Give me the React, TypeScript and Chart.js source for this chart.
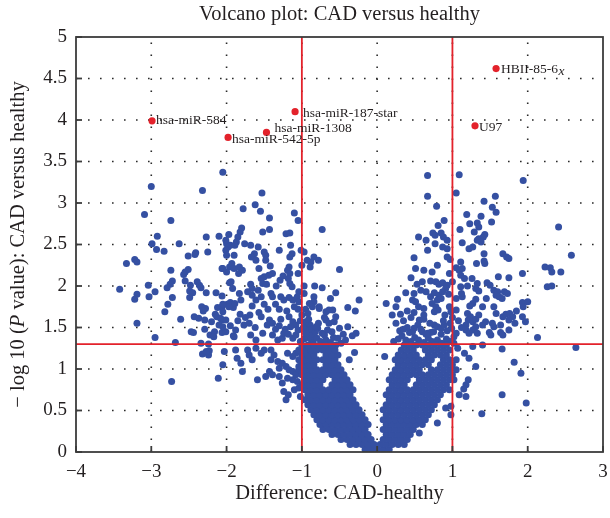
import React, { useEffect, useRef } from "react";
import { Chart, registerables } from "chart.js";
Chart.register(...registerables);

const FONT = '"Liberation Serif", "Times New Roman", "DejaVu Serif", serif';

const xTickValues = [-4, -3, -2, -1, 0, 1, 2, 3];
const yTickValues = [0, 0.5, 1, 1.5, 2, 2.5, 3, 3.5, 4, 4.5, 5];
const foldCutoffs = [-1, 1];
const pCutoff = 1.3;

const chartTitle = "Volcano plot: CAD versus healthy";
const xAxisTitle = "Difference: CAD-healthy";
const yAxisTitleParts = ["\u2212 log 10 (", "P", " value): CAD versus healthy"];

const highlightNames = ["HBII-85-6", "U97", "hsa-miR-584", "hsa-miR-187-star", "hsa-miR-1308", "hsa-miR-542-5p"];
const highlightItalicSuffix = ["x", "", "", "", "", ""];
const highlightX = [1.58, 1.3, -2.99, -1.09, -1.47, -1.98];
const highlightY = [4.62, 3.93, 3.99, 4.1, 3.85, 3.79];

const leftCloud: number[][] = [
  [-2.05,3.37],[-3.0,3.2],[-2.32,3.15],[-3.09,2.86],[-2.74,2.79],[-2.92,2.6],[-2.99,2.51],[-2.63,2.51],[-2.27,2.59],[-2.1,2.6],
  [-1.97,2.62],[-2.93,2.44],[-2.83,2.42],[-2.41,2.4],[-2.42,2.38],[-2.25,2.41],[-2.51,2.36],[-2.0,2.51],[-1.98,2.47],[-1.95,2.49],
  [-3.33,2.27],[-3.22,2.32],[-3.19,2.29],[-2.74,2.19],[-2.51,2.2],[-2.55,2.17],[-2.57,2.14],[-2.06,2.21],[-1.96,2.23],[-1.93,2.27],
  [-2.0,2.17],[-2.72,2.06],[-2.75,2.02],[-2.79,1.98],[-2.55,2.06],[-2.48,2.01],[-2.39,2.05],[-2.36,2.01],[-2.34,1.98],[-2.27,1.92],
  [-1.96,2.04],[-3.42,1.96],[-3.04,2.01],[-3.03,1.87],[-2.95,1.93],[-3.19,1.9],[-3.22,1.84],[-2.49,1.94],[-2.45,1.92],[-2.49,1.86],
  [-2.72,1.86],[-2.78,1.78],[-2.82,1.69],[-2.14,1.92],[-2.06,1.88],[-2.33,1.75],[-2.28,1.73],[-2.31,1.7],[-2.12,1.74],[-2.06,1.75],
  [-1.99,1.78],[-1.95,1.8],[-1.91,1.74],[-2.43,1.63],[-2.37,1.61],[-2.29,1.59],[-2.15,1.66],[-2.13,1.63],[-2.2,1.57],[-2.61,1.6],
  [-3.19,1.55],[-2.06,1.59],[-2.1,1.53],[-2.47,1.45],[-2.44,1.44],[-2.29,1.48],[-2.22,1.41],[-2.16,1.45],[-2.17,1.39],[-2.06,1.44],
  [-1.91,1.4],[-2.95,1.38],[-2.68,1.32],[-2.34,1.31],[-2.24,1.3],
  [-1.53,3.12],[-1.62,2.98],[-1.78,2.93],[-1.55,2.9],[-1.43,2.82],[-1.1,2.88],[-1.05,2.79],[-0.73,2.68],[-1.8,2.7],[-1.82,2.65],
  [-1.85,2.59],[-1.87,2.53],[-1.52,2.65],[-1.43,2.68],[-1.21,2.63],[-1.16,2.64],[-2.01,2.55],[-1.89,2.49],[-1.9,2.37],[-1.76,2.51],
  [-1.68,2.49],[-1.58,2.47],[-1.5,2.41],[-1.3,2.43],[-1.15,2.49],[-1.13,2.39],[-1.16,2.35],[-1.01,2.43],[-0.97,2.41],[-1.63,2.39],
  [-1.67,2.35],[-1.48,2.37],[-1.48,2.31],[-2.01,2.43],[-2.0,2.37],[-0.93,2.31],[-0.88,2.29],[-0.84,2.35],[-0.78,2.31],[-0.89,2.23],
  [-0.5,2.2],[-1.61,2.31],[-2.05,2.21],[-1.9,2.21],[-1.83,2.23],[-1.79,2.19],[-1.84,2.15],[-1.57,2.21],[-1.42,2.24],[-1.39,2.15],
  [-1.17,2.23],[-1.19,2.19],[-1.16,2.15],[-1.5,2.11],[-1.44,2.13],[-1.29,2.07],[-1.18,2.09],[-1.16,2.03],[-1.13,1.99],[-1.54,2.09],
  [-1.52,2.03],[-1.94,2.05],[-1.92,1.97],[-1.68,2.02],[-1.66,1.97],[-1.72,1.93],[-1.34,2.0],[-0.97,2.0],[-0.83,2.0],[-0.73,1.98],
  [-1.83,1.91],[-1.81,1.83],[-1.89,1.79],[-1.97,1.75],[-2.05,1.78],[-1.66,1.89],[-1.61,1.83],[-1.66,1.76],[-1.54,1.87],[-1.41,1.91],
  [-1.39,1.87],[-1.28,1.87],[-1.24,1.83],[-1.17,1.86],[-1.12,1.83],[-1.04,1.93],[-1.06,1.87],[-1.04,1.81],[-0.97,1.91],[-0.84,1.87],
  [-0.84,1.81],[-0.86,1.75],[-0.77,1.73],[-0.68,1.69],[-0.59,1.71],[-0.39,1.74],[-0.29,1.7],[-2.05,1.69],[-2.01,1.59],[-2.08,1.61],
  [-1.82,1.66],[-1.69,1.65],[-1.57,1.68],[-1.54,1.63],[-1.43,1.59],[-1.46,1.53],[-1.39,1.55],[-1.28,1.6],[-1.17,1.63],[-1.12,1.57],
  [-1.08,1.53],[-1.15,1.51],[-0.79,1.49],[-0.73,1.43],[-0.64,1.55],[-0.57,1.57],[-0.39,1.51],[-0.33,1.4],[-1.77,1.53],[-1.9,1.39],
  [-2.01,1.45],[-2.05,1.51],[-1.68,1.41],[-1.52,1.43],[-1.61,1.35],[-1.39,1.41],[-1.32,1.35],[-1.26,1.37],[-1.24,1.43],[-1.12,1.37],
  [-1.08,1.41],[-0.55,1.29],[-0.48,1.31],
  [-0.97,1.36],[-0.92,1.38],[-0.88,1.36],[-0.95,1.43],[-0.9,1.45],[-0.86,1.42],[-0.93,1.5],[-0.89,1.53],[-0.95,1.57],[-0.91,1.6],
  [-0.87,1.48],[-0.98,1.5],[-1.02,1.33],[-0.85,1.31],[-0.8,1.37],[-0.75,1.33],[-0.68,1.35],[-0.62,1.32],[-0.58,1.38],[-0.7,1.41],
  [-0.82,1.45],[-0.78,1.55],[-0.66,1.47],[-0.6,1.45],[-0.52,1.37],[-0.45,1.42],[-0.5,1.49],[-0.9,1.79],[-0.77,1.75],[-0.64,1.71],
  [-0.55,1.63],[-0.68,1.59],[-0.81,1.51],[-0.42,1.35],[-0.28,1.43],[-0.24,1.83],
  [-1.35,1.48],[-1.3,1.52],[-1.22,1.48],[-1.18,1.42],[-1.05,1.47],[-1.02,1.58],[-1.0,1.65],[-1.05,1.72],[-1.1,1.75],[-1.2,1.7],
  [-1.3,1.72],[-1.35,1.78],[-1.45,1.72],[-1.5,1.78],[-1.62,1.5],[-1.7,1.55],[-1.75,1.62],[-1.85,1.58],[-1.95,1.52],[-1.88,1.47],
  [-1.58,1.95],[-1.47,2.02],[-1.25,2.12],[-1.05,2.15],[-1.0,2.25],[-0.95,1.72],[-0.92,1.67],[-0.7,1.62],[-0.62,1.85],[-0.55,1.92],
];

const leftLow: number[][] = [
  [-2.73,0.85],[-2.32,1.18],[-2.24,1.17],[-2.23,1.22],[-2.11,0.89],[-2.27,1.21],[-2.03,1.21],[-2.05,1.05],[-1.88,1.23],[-1.86,1.13],
  [-1.81,1.07],[-1.72,1.23],[-1.7,1.17],[-1.66,1.11],[-1.61,1.25],[-1.54,1.19],[-1.5,1.23],[-1.79,0.97],[-1.59,0.87],[-1.41,1.23],
  [-1.37,1.17],[-1.41,1.11],[-1.32,1.09],[-1.3,1.01],[-1.43,0.97],[-1.39,0.93],[-1.48,0.91],[-1.3,0.91],[-1.26,0.83],[-1.24,0.73],
  [-1.21,0.63],[-1.18,0.69],[-1.1,0.75],[-1.26,1.07],[-1.21,1.03],[-1.17,0.99],[-1.12,0.97],[-1.19,0.89],[-1.12,0.87],[-1.08,0.93],
  [-1.06,0.85],[-1.04,1.03],[-1.08,1.19],[-1.12,1.15],[-1.19,1.19],[-1.04,0.77],[-1.02,0.67],[-0.37,1.11],[-0.3,1.2],[0.1,1.15],
];

const rightCloud: number[][] = [
  [0.67,3.33],[1.09,3.34],[1.94,3.27],[0.67,3.08],[1.05,3.12],[0.79,2.96],[1.42,3.02],[1.57,3.08],[1.53,2.95],[1.58,2.89],
  [1.19,2.86],[0.89,2.79],[0.81,2.73],[1.38,2.84],[1.52,2.77],[1.23,2.75],[1.33,2.76],[1.35,2.71],[1.29,2.65],[1.1,2.68],
  [0.74,2.64],[0.77,2.61],[0.85,2.64],[0.88,2.59],[0.55,2.59],[0.65,2.55],[0.77,2.51],[0.93,2.55],[1.13,2.52],[1.35,2.57],
  [1.41,2.59],[1.43,2.62],[1.38,2.53],[1.33,2.55],[0.87,2.47],[0.93,2.45],[1.22,2.45],[1.27,2.47],[0.67,2.43],[1.42,2.39],
  [1.67,2.39],[1.72,2.35],[1.75,2.33],[0.49,2.34],[0.93,2.35],[0.97,2.32],[1.11,2.29],[1.32,2.27],[1.42,2.3],[1.43,2.27],
  [0.51,2.21],[0.62,2.19],[0.73,2.17],[0.8,2.25],[1.05,2.22],[1.09,2.19],[1.13,2.21],[1.11,2.13],[1.16,2.09],[0.96,2.15],
  [1.26,2.09],[1.61,2.11],[1.75,2.1],[1.93,2.15],[0.71,2.06],[0.78,2.05],[0.82,2.02],[0.87,2.04],[0.93,2.01],[0.91,1.97],
  [0.53,2.02],[0.58,1.95],[0.49,1.91],[0.38,1.92],[0.27,1.84],[0.65,1.93],[0.71,1.87],[0.76,1.92],[0.82,1.89],[0.8,1.83],
  [0.87,1.93],[1.33,2.03],[1.31,1.97],[1.35,1.94],[1.46,2.04],[1.5,2.01],[1.11,1.99],[1.13,1.87],[1.12,1.91],[1.55,1.95],
  [1.6,1.93],[1.58,1.89],[1.62,1.87],[1.69,1.93],[1.73,1.91],[1.66,1.85],[1.31,1.84],[1.27,1.79],[1.23,1.76],[1.93,1.8],
  [2.0,1.81],[1.94,1.75],[0.47,1.83],[0.51,1.81],[0.73,1.79],[0.78,1.75],[0.81,1.71],[0.76,1.69],[0.96,1.75],[0.98,1.69],
  [0.31,1.66],[0.49,1.68],[0.62,1.73],[1.05,1.71],[1.2,1.67],[1.24,1.63],[1.21,1.59],[1.27,1.57],[1.31,1.6],[1.35,1.65],
  [1.18,1.53],[1.31,1.51],[1.4,1.53],[1.44,1.57],[1.58,1.67],[1.53,1.55],[1.55,1.51],[1.67,1.63],[1.71,1.66],[1.76,1.67],
  [1.8,1.63],[1.83,1.55],[1.75,1.59],[1.64,1.53],[1.93,1.63],[1.97,1.57],[0.56,1.59],[0.54,1.53],[0.49,1.49],[0.43,1.44],
  [0.6,1.45],[0.67,1.43],[0.71,1.44],[0.76,1.53],[0.8,1.51],[0.85,1.49],[0.89,1.53],[0.97,1.55],[0.99,1.49],[1.05,1.43],
  [1.02,1.39],[1.18,1.47],[1.22,1.43],[1.27,1.47],[1.33,1.43],[1.49,1.44],[1.51,1.41],[1.64,1.44],[1.67,1.41],[2.13,1.38],
  [2.41,2.71],[2.58,2.37],[2.23,2.23],[2.3,2.22],[2.32,2.17],[2.44,2.17],[2.26,1.99],[2.32,2.0],
  [0.22,1.33],[0.28,1.36],[0.33,1.4],[0.38,1.35],[0.45,1.33],[0.5,1.38],[0.55,1.35],[0.62,1.32],[0.68,1.37],[0.73,1.33],
  [0.8,1.35],[0.86,1.31],[0.92,1.36],[0.97,1.33],[1.02,1.31],[0.3,1.46],[0.4,1.5],[0.47,1.45],[0.58,1.48],[0.65,1.42],
  [0.75,1.45],[0.85,1.42],[0.93,1.46],[0.25,1.55],[0.35,1.58],[0.45,1.62],[0.62,1.6],[0.7,1.55],[0.88,1.58],[0.2,1.65],
  [0.25,1.75],[0.12,1.79],
  [0.35,1.48],[0.4,1.7],[0.55,1.75],[0.62,1.65],[0.9,1.65],[1.0,1.62],[1.08,1.58],[1.12,1.5],[0.85,1.85],[0.95,1.9],
  [1.0,2.05],[1.2,2.0],[0.6,2.05],[0.45,2.1],[1.4,1.75],[1.45,1.85],[1.55,1.75],[1.75,1.47],[1.85,1.7],[1.05,1.85],
];

const rightLow: number[][] = [
  [2.64,1.26],[1.66,1.24],[1.82,1.08],[1.91,0.95],[1.66,0.69],[1.98,0.59],[1.39,0.46],[1.07,1.25],[1.16,1.19],[1.22,1.13],
  [1.31,1.03],[1.05,1.11],[1.05,0.99],[1.02,0.87],[1.09,0.69],[1.18,0.67],[1.21,0.87],[1.18,0.81],[1.15,0.76],[1.4,1.29],
  [1.27,1.27],[0.98,0.45],[0.8,0.35],[0.56,0.23],[0.91,0.53],[0.98,0.55],
];

const coreRowY = [0.03,0.09,0.15,0.21,0.27,0.33,0.39,0.45,0.51,0.57,0.63,0.69,0.75,0.81,0.87,0.93,0.99,1.05,1.11,1.17,1.23,1.29];

const leftArmX: number[][] = [
  [-0.16,-0.08,0,0.08,0.16],
  [-0.36,-0.28,-0.2,-0.12,-0.04,0.04,0.12,0.2,0.28,0.36],
  [-0.48,-0.4,-0.32,-0.24,-0.16,-0.08],
  [-0.6,-0.52,-0.44,-0.36,-0.28,-0.2,-0.12],
  [-0.72,-0.64,-0.56,-0.48,-0.4,-0.32,-0.24,-0.16],
  [-0.76,-0.68,-0.6,-0.52,-0.44,-0.36,-0.28,-0.2,-0.12],
  [-0.8,-0.72,-0.64,-0.56,-0.48,-0.4,-0.32,-0.24,-0.16],
  [-0.84,-0.76,-0.68,-0.6,-0.52,-0.44,-0.36,-0.28,-0.2],
  [-0.88,-0.8,-0.72,-0.64,-0.56,-0.48,-0.4,-0.32,-0.24],
  [-0.92,-0.84,-0.76,-0.68,-0.6,-0.52,-0.44,-0.36,-0.28],
  [-0.96,-0.88,-0.8,-0.72,-0.64,-0.56,-0.48,-0.4,-0.32],
  [-0.92,-0.84,-0.76,-0.68,-0.6,-0.52,-0.44,-0.36],
  [-0.96,-0.88,-0.8,-0.72,-0.64,-0.56,-0.48,-0.4,-0.32],
  [-1.0,-0.92,-0.84,-0.76,-0.6,-0.52,-0.44,-0.36],
  [-0.96,-0.88,-0.8,-0.72,-0.56,-0.48,-0.4],
  [-1.0,-0.92,-0.84,-0.76,-0.68,-0.6,-0.52,-0.44],
  [-1.04,-0.96,-0.88,-0.8,-0.72,-0.64,-0.56,-0.48],
  [-1.0,-0.92,-0.84,-0.68,-0.6,-0.52],
  [-1.04,-0.96,-0.88,-0.8,-0.72,-0.64,-0.56],
  [-1.0,-0.92,-0.84,-0.68,-0.6,-0.52],
  [-1.04,-0.96,-0.88,-0.8,-0.72,-0.64,-0.56],
  [-1.0,-0.92,-0.84,-0.76,-0.68,-0.6],
];

const rightArmX: number[][] = [
  [],
  [],
  [0.08,0.16,0.24,0.32,0.4],
  [0.12,0.2,0.28,0.36,0.44],
  [0.08,0.16,0.24,0.32,0.4,0.48],
  [0.12,0.2,0.28,0.36,0.44,0.52,0.6],
  [0.08,0.16,0.24,0.32,0.4,0.48,0.56,0.64],
  [0.12,0.2,0.28,0.36,0.44,0.52,0.6,0.68],
  [0.08,0.16,0.24,0.32,0.4,0.48,0.56,0.64,0.72],
  [0.12,0.2,0.28,0.36,0.44,0.52,0.6,0.68,0.76],
  [0.16,0.24,0.32,0.4,0.48,0.56,0.64,0.72,0.8],
  [0.12,0.2,0.28,0.36,0.44,0.52,0.6,0.68,0.76,0.84],
  [0.16,0.24,0.32,0.4,0.48,0.56,0.64,0.72,0.8,0.88,0.96],
  [0.2,0.28,0.36,0.52,0.6,0.68,0.76,0.84,0.92],
  [0.16,0.24,0.32,0.4,0.56,0.64,0.72,0.8,0.88,0.96],
  [0.2,0.28,0.36,0.44,0.52,0.6,0.68,0.76,0.84,0.92,1.0],
  [0.24,0.32,0.4,0.48,0.56,0.72,0.8,0.88,0.96],
  [0.28,0.36,0.44,0.52,0.6,0.68,0.84,0.92,1.0],
  [0.24,0.32,0.4,0.48,0.56,0.64,0.72,0.88,0.96],
  [0.28,0.36,0.44,0.52,0.68,0.76,0.84,0.92],
  [0.32,0.4,0.48,0.64,0.72,0.8,0.88,0.96],
  [0.36,0.44,0.52,0.6,0.68,0.76,0.84,0.92],
];

const BLUE = "#3550a2";
const RED = "#e3222b";
const INK = "#231f20";

// label placement (pixels, relative to the marker)
const labelDx = [5, 4, 4, 8, 8, 4];
const labelDy = [1, 1.5, 0, 2, -4, 2];

const fmt = (v: number) => (v < 0 ? "\u2212" + Math.abs(v) : String(v));

const decorPlugin = {
  id: "decor",
  beforeDatasetsDraw(chart: any) {
    const { ctx, chartArea: a, scales } = chart;
    ctx.save();
    ctx.strokeStyle = "#2a2a2a";
    ctx.lineWidth = 1.6;
    ctx.setLineDash([1.6, 10.4]);
    xTickValues.slice(1, -1).forEach((v) => {
      const px = scales.x.getPixelForValue(v);
      ctx.beginPath();
      ctx.moveTo(px, a.bottom);
      ctx.lineTo(px, a.top);
      ctx.stroke();
    });
    yTickValues.slice(1, -1).forEach((v) => {
      const py = scales.y.getPixelForValue(v);
      ctx.beginPath();
      ctx.moveTo(a.left, py);
      ctx.lineTo(a.right, py);
      ctx.stroke();
    });
    ctx.restore();
  },
  afterDatasetsDraw(chart: any) {
    const { ctx, chartArea: a, scales } = chart;
    const xs = scales.x;
    const ys = scales.y;
    ctx.save();
    ctx.strokeStyle = RED;
    ctx.lineWidth = 1.8;
    foldCutoffs.forEach((v) => {
      const px = xs.getPixelForValue(v);
      ctx.beginPath();
      ctx.moveTo(px, a.top);
      ctx.lineTo(px, a.bottom);
      ctx.stroke();
    });
    const pyc = ys.getPixelForValue(pCutoff);
    ctx.beginPath();
    ctx.moveTo(a.left, pyc);
    ctx.lineTo(a.right, pyc);
    ctx.stroke();

    ctx.strokeStyle = "#3c3c3c";
    ctx.lineWidth = 1.8;
    ctx.strokeRect(a.left, a.top, a.right - a.left, a.bottom - a.top);
    xTickValues.forEach((v) => {
      const px = xs.getPixelForValue(v);
      ctx.beginPath();
      ctx.moveTo(px, a.bottom);
      ctx.lineTo(px, a.bottom - 6);
      ctx.stroke();
    });
    yTickValues.forEach((v) => {
      const py = ys.getPixelForValue(v);
      ctx.beginPath();
      ctx.moveTo(a.left, py);
      ctx.lineTo(a.left + 6, py);
      ctx.stroke();
    });

    ctx.fillStyle = INK;
    ctx.textBaseline = "middle";
    ctx.textAlign = "left";
    highlightNames.forEach((name, i) => {
      const px = xs.getPixelForValue(highlightX[i]) + labelDx[i];
      const py = ys.getPixelForValue(highlightY[i]) + labelDy[i];
      ctx.font = `13.5px ${FONT}`;
      ctx.fillText(name, px, py);
      if (highlightItalicSuffix[i]) {
        const w = ctx.measureText(name).width;
        ctx.font = `italic 13.5px ${FONT}`;
        ctx.fillText(highlightItalicSuffix[i], px + w + 0.5, py + 2);
      }
    });

    const cx = (a.left + a.right) / 2;
    const cy = (a.top + a.bottom) / 2;
    ctx.textAlign = "center";
    ctx.font = `20.5px ${FONT}`;
    ctx.fillText(chartTitle, cx, 15);
    ctx.fillText(xAxisTitle, cx, 494);

    ctx.save();
    ctx.translate(19, cy);
    ctx.rotate(-Math.PI / 2);
    ctx.textAlign = "left";
    const fonts = [`20.5px ${FONT}`, `italic 20.5px ${FONT}`, `20.5px ${FONT}`];
    let total = 0;
    const widths = yAxisTitleParts.map((t, i) => {
      ctx.font = fonts[i];
      const w = ctx.measureText(t).width;
      total += w;
      return w;
    });
    let xpos = -total / 2;
    yAxisTitleParts.forEach((t, i) => {
      ctx.font = fonts[i];
      ctx.fillText(t, xpos, 0);
      xpos += widths[i];
    });
    ctx.restore();
    ctx.restore();
  },
};

function bluePoints() {
  const pts: { x: number; y: number }[] = [];
  [leftCloud, leftLow, rightCloud, rightLow].forEach((arr) =>
    arr.forEach(([x, y]) => pts.push({ x, y }))
  );
  coreRowY.forEach((y, i) => {
    leftArmX[i].forEach((x) => pts.push({ x, y }));
    rightArmX[i].forEach((x) => pts.push({ x, y }));
  });
  return pts;
}

export default function App() {
  const ref = useRef<HTMLCanvasElement | null>(null);
  useEffect(() => {
    document.body.style.margin = "0";
    const canvas = ref.current;
    if (!canvas) return;
    const chart = new Chart(canvas, {
      type: "scatter",
      data: {
        datasets: [
          {
            data: highlightX.map((x, i) => ({ x, y: highlightY[i] })),
            backgroundColor: RED,
            borderWidth: 0,
            pointRadius: 3.6,
            clip: 0,
          } as any,
          {
            data: bluePoints(),
            backgroundColor: BLUE,
            borderWidth: 0,
            pointRadius: 3.5,
            clip: 0,
          } as any,
        ],
      },
      options: {
        responsive: false,
        animation: false,
        devicePixelRatio: 1,
        events: [],
        layout: { padding: { top: 37, right: 7, left: 0, bottom: 0 } },
        plugins: {
          legend: { display: false },
          tooltip: { enabled: false },
          title: { display: false },
        },
        scales: {
          x: {
            type: "linear",
            min: -4,
            max: 3,
            afterFit: (s: any) => {
              s.height = 66;
              s.paddingLeft = 0;
              s.paddingRight = 0;
            },
            afterBuildTicks: (s: any) => {
              s.ticks = xTickValues.map((value) => ({ value }));
            },
            grid: { display: false, drawTicks: false },
            border: { display: false },
            ticks: {
              padding: 9,
              color: INK,
              font: { family: FONT, size: 19 },
              callback: (v: any) => fmt(Number(v)),
              maxRotation: 0,
              autoSkip: false,
            },
          },
          y: {
            type: "linear",
            min: 0,
            max: 5,
            afterFit: (s: any) => {
              s.width = 76;
              s.paddingTop = 0;
              s.paddingBottom = 0;
            },
            afterBuildTicks: (s: any) => {
              s.ticks = yTickValues.map((value) => ({ value }));
            },
            grid: { display: false, drawTicks: false },
            border: { display: false },
            ticks: {
              padding: 9,
              color: INK,
              font: { family: FONT, size: 19 },
              callback: (v: any) => fmt(Number(v)),
              autoSkip: false,
            },
          },
        },
      },
      plugins: [decorPlugin],
    } as any);
    return () => chart.destroy();
  }, []);
  return (
    <div style={{ position: "absolute", left: 0, top: 0, width: 610, height: 518 }}>
      <canvas ref={ref} width={610} height={518} style={{ width: 610, height: 518 }} />
    </div>
  );
}
